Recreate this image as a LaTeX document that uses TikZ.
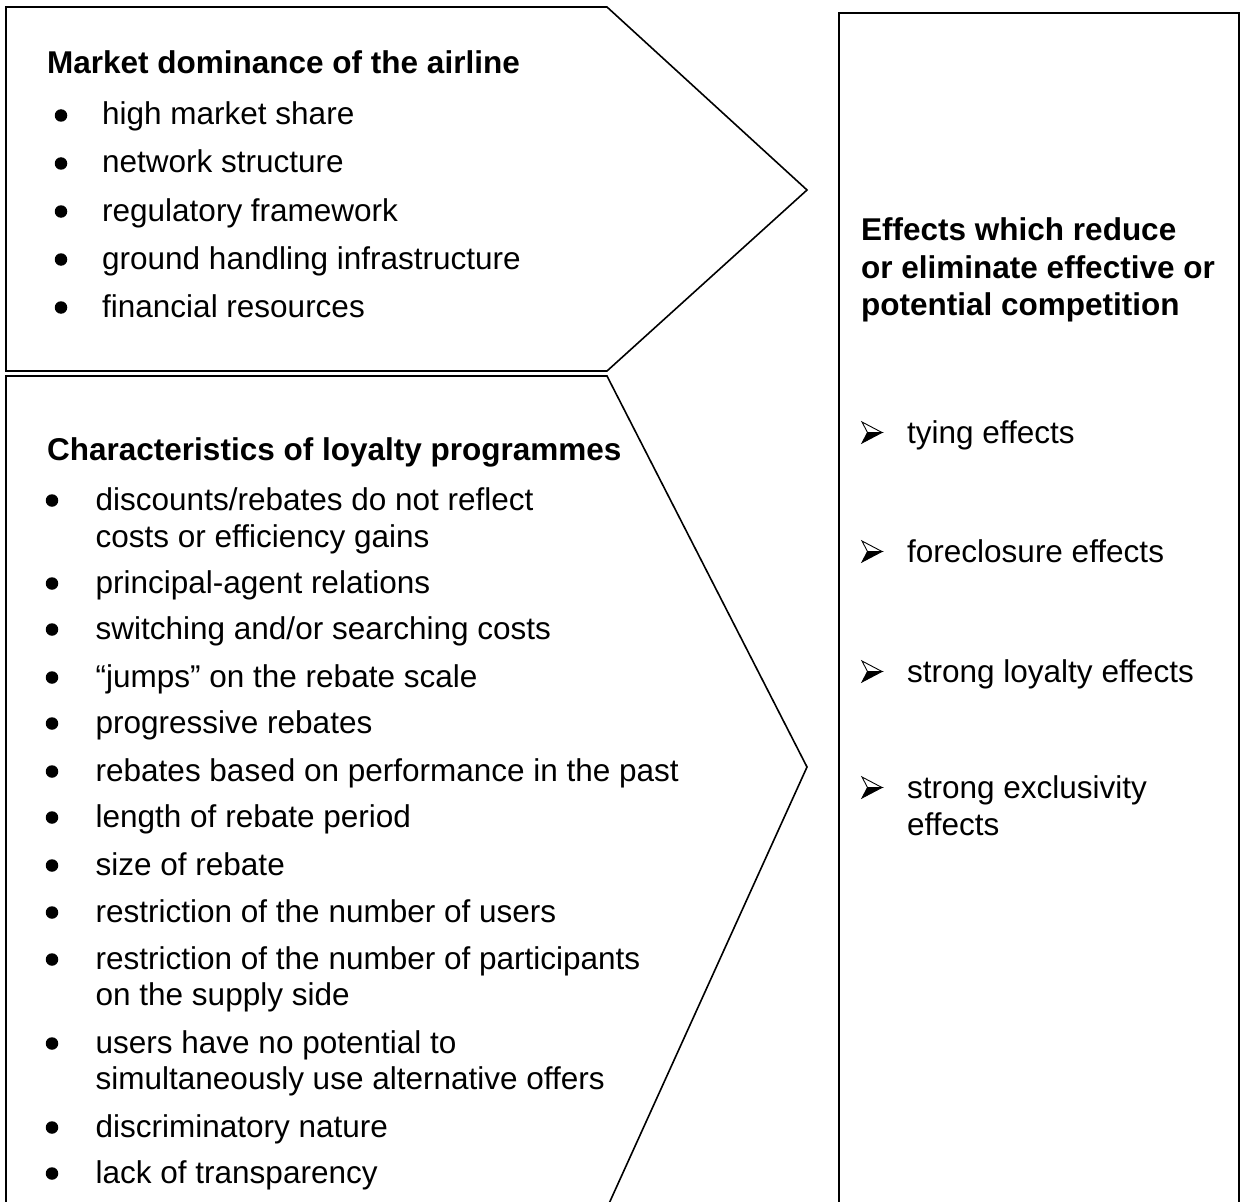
\documentclass[tikz,border=0pt]{standalone}
\usepackage{fontspec}
\setmainfont{Liberation Sans}
\begin{document}
\begin{tikzpicture}[x=1pt,y=-1pt,
  outline/.style={draw=black,line width=1.6pt,line join=miter},
  head/.style={font=\fontsize{31.5}{37}\selectfont\bfseries,anchor=base west,inner sep=0pt},
  item/.style={font=\fontsize{31.5}{37}\selectfont,anchor=base west,inner sep=0pt},
  dot/.style={circle,fill=black,minimum size=12.5pt,inner sep=0pt},
  arrowbullet/.pic={
    % three-dimensional arrowhead: light upper half, dark lower half
    \draw[line width=0.9pt,fill=white,line join=miter] (0,-21) -- (20,-10.5) -- (5.5,-10.5) -- cycle;
    \draw[line width=0.9pt,fill=black,line join=miter] (0,0) -- (20,-10.5) -- (5.5,-10.5) -- cycle;
  },
]
\useasboundingbox (0,0) rectangle (1241,1201);

% ---- outlines -------------------------------------------------------
\begin{scope}
\clip (0,0) rectangle (1241,1201);
\draw[outline] (6,7) -- (607,7) -- (807,190) -- (607,371) -- (6,371) -- cycle;
\draw[outline] (6,376) -- (607,376) -- (807,767) -- (597,1230) -- (6,1230) -- cycle;
\draw[outline] (839,13) -- (1239,13) -- (1239,1230) -- (839,1230) -- cycle;
\end{scope}

% ---- market dominance ----------------------------------------------
\node[head] (mdT) at (47,74) {Market dominance of the airline};
\foreach \n/\y/\t in {1/125/high market share,
                      2/173/network structure,
                      3/221/regulatory framework,
                      4/269/ground handling infrastructure,
                      5/317/financial resources}{
  \node[dot] (mdB\n) at (61,\y-9.5) {};
  \node[item] (md\n) at (102,\y) {\t};
}

% ---- loyalty programmes --------------------------------------------
\node[head] (lpT) at (47,460) {Characteristics of loyalty programmes};
\foreach \n/\y/\t in {1/510/{discounts/rebates do not reflect},
                      3/593/principal-agent relations,
                      4/639/{switching and/or searching costs},
                      5/687/“jumps” on the rebate scale,
                      6/733/progressive rebates,
                      7/781/rebates based on performance in the past,
                      8/827/length of rebate period,
                      9/875/size of rebate,
                      10/922/restriction of the number of users,
                      11/969/restriction of the number of participants,
                      13/1053/users have no potential to,
                      15/1137/discriminatory nature,
                      16/1183/lack of transparency}{
  \node[dot] (lpB\n) at (52,\y-9.5) {};
  \node[item] (lp\n) at (95.5,\y) {\t};
}
\node[item] (lp2) at (95.5,547) {costs or efficiency gains};
\node[item] (lp12) at (95.5,1005) {on the supply side};
\node[item] (lp14) at (95.5,1089) {simultaneously use alternative offers};

% ---- effects ---------------------------------------------------------
\node[head] (efT1) at (861,240) {Effects which reduce};
\node[head] (efT2) at (861,278) {or eliminate effective or};
\node[head] (efT3) at (861,315) {potential competition};
\foreach \n/\y/\t in {1/443/tying effects,
                      2/562/foreclosure effects,
                      3/682/strong loyalty effects,
                      4/798/strong exclusivity}{
  \pic at (862,\y) {arrowbullet};
  \node[item] (ef\n) at (907,\y) {\t};
}
\node[item] (ef5) at (907,835) {effects};
\end{tikzpicture}
\end{document}
